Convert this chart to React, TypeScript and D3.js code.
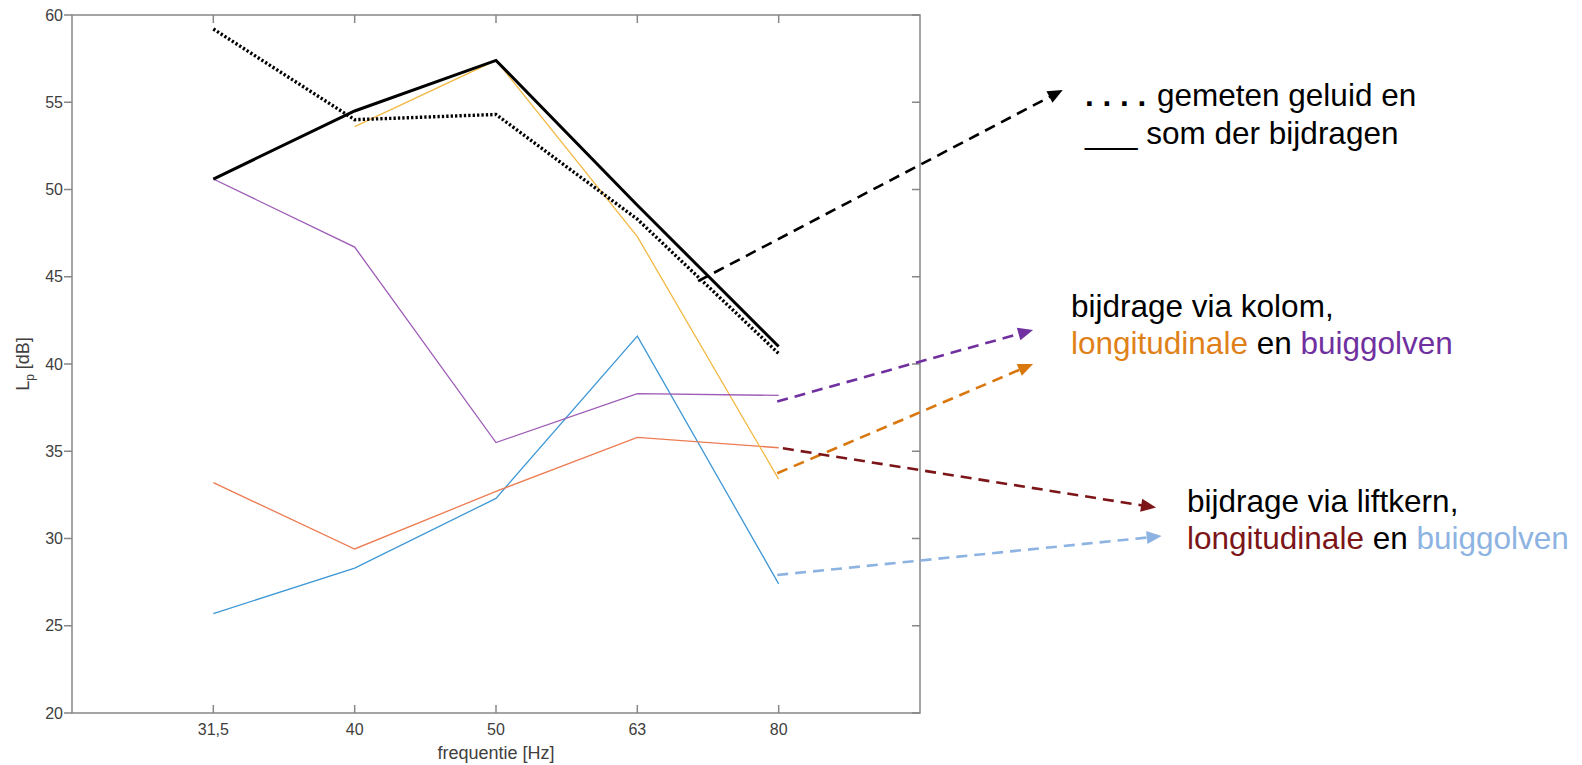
import React from "react";
import * as d3 from "d3";

// ---- data ----
const freqLabels = ["31,5", "40", "50", "63", "80"];
const yTicks = [20, 25, 30, 35, 40, 45, 50, 55, 60];
const measured = [59.2, 54.0, 54.3, 48.3, 40.6];
const sumContrib = [50.6, 54.5, 57.4, 49.1, 41.0];
const columnLongitudinal: (number | null)[] = [null, 53.6, 57.4, 47.3, 33.4];
const columnBending = [50.6, 46.7, 35.5, 38.3, 38.2];
const coreLongitudinal = [33.2, 29.4, 32.7, 35.8, 35.2];
const coreBending = [25.7, 28.3, 32.3, 41.6, 27.4];

// annotation arrows in data coordinates (x: category index, 31,5 = 1)
const arrowBlack = [[4.43, 44.75], [7.01, 55.7]];
const arrowPurple = [[4.99, 37.85], [6.8, 41.95]];
const arrowOrange = [[4.99, 33.74], [6.8, 40.0]];
const arrowDarkRed = [[5.03, 35.17], [7.67, 31.77]];
const arrowLightBlue = [[4.99, 27.91], [7.71, 30.14]];

const W = 1582;
const H = 765;
const M = { left: 72, right: 920, top: 15, bottom: 713 };

const x = d3.scaleLinear().domain([0, 6]).range([M.left, M.right]);
const y = d3.scaleLinear().domain([20, 60]).range([M.bottom, M.top]);

const line = d3
  .line<number | null>()
  .defined((d) => d !== null)
  .x((_, i) => x(i + 1))
  .y((d) => y(d as number));

const AXIS = "#868686";
const TICKTXT = "#404040";
const FONT = "Arial, 'Liberation Sans', Helvetica, sans-serif";

function Arrow({ pts, color, width = 2.6, dash = "11 7" }: { pts: number[][]; color: string; width?: number; dash?: string }) {
  const x0 = x(pts[0][0]);
  const y0 = y(pts[0][1]);
  const x1 = x(pts[1][0]);
  const y1 = y(pts[1][1]);
  const dx = x1 - x0;
  const dy = y1 - y0;
  const len = Math.hypot(dx, dy);
  const ux = dx / len;
  const uy = dy / len;
  const hl = 15;
  const hw = 6.5;
  const bx = x1 - ux * hl;
  const by = y1 - uy * hl;
  const p1 = [bx - uy * hw, by + ux * hw];
  const p2 = [bx + uy * hw, by - ux * hw];
  return (
    <g>
      <line x1={x0} y1={y0} x2={bx + ux * 1} y2={by + uy * 1} stroke={color} strokeWidth={width} strokeDasharray={dash} />
      <polygon points={`${x1},${y1} ${p1[0]},${p1[1]} ${p2[0]},${p2[1]}`} fill={color} />
    </g>
  );
}

export default function App() {
  return (
    <svg width={W} height={H} style={{ position: "absolute", left: 0, top: 0, background: "#fff" }} fontFamily={FONT}>
      {/* axes box */}
      <rect x={M.left} y={M.top} width={M.right - M.left} height={M.bottom - M.top} fill="none" stroke={AXIS} strokeWidth={1.5} />
      {/* y ticks */}
      {yTicks.map((t) => (
        <g key={"y" + t}>
          <line x1={M.left - 8} x2={M.left} y1={y(t)} y2={y(t)} stroke={AXIS} strokeWidth={1.5} />
          <line x1={M.right - 8} x2={M.right} y1={y(t)} y2={y(t)} stroke={AXIS} strokeWidth={1.5} />
          <text x={M.left - 9} y={y(t)} dy="0.35em" textAnchor="end" fontSize={16} fill={TICKTXT}>
            {t}
          </text>
        </g>
      ))}
      {/* x ticks */}
      {freqLabels.map((f, i) => (
        <g key={"x" + f}>
          <line x1={x(i + 1)} x2={x(i + 1)} y1={M.bottom} y2={M.bottom - 8} stroke={AXIS} strokeWidth={1.5} />
          <line x1={x(i + 1)} x2={x(i + 1)} y1={M.top} y2={M.top + 8} stroke={AXIS} strokeWidth={1.5} />
          <text x={x(i + 1)} y={735} textAnchor="middle" fontSize={16} fill={TICKTXT}>
            {f}
          </text>
        </g>
      ))}
      <text x={x(3)} y={759} textAnchor="middle" fontSize={18} fill={TICKTXT}>
        frequentie [Hz]
      </text>
      <text transform={`translate(29,${(M.top + M.bottom) / 2}) rotate(-90)`} textAnchor="middle" fontSize={18} fill={TICKTXT}>
        L<tspan fontSize={12} dy={5}>p</tspan>
        <tspan dy={-5}> [dB]</tspan>
      </text>

      {/* series */}
      <path d={line(coreBending) || ""} fill="none" stroke="#3f98d5" strokeWidth={1.3} />
      <path d={line(coreLongitudinal) || ""} fill="none" stroke="#ec7b52" strokeWidth={1.3} />
      <path d={line(columnLongitudinal) || ""} fill="none" stroke="#f2b843" strokeWidth={1.3} />
      <path d={line(columnBending) || ""} fill="none" stroke="#9d5bb5" strokeWidth={1.3} />
      <path d={line(sumContrib) || ""} fill="none" stroke="#000" strokeWidth={3} />
      <path d={line(measured) || ""} fill="none" stroke="#000" strokeWidth={3.4} strokeDasharray="2.3 2.1" />

      {/* annotation arrows */}
      <Arrow pts={arrowBlack} color="#000" />
      <Arrow pts={arrowPurple} color="#7030A0" />
      <Arrow pts={arrowOrange} color="#D9770F" />
      <Arrow pts={arrowDarkRed} color="#7B1518" />
      <Arrow pts={arrowLightBlue} color="#8DB3E2" />

      {/* annotation texts */}
      <text fontSize={31.5} fill="#000">
        <tspan x={1085} y={106} fontWeight="bold">. . . .</tspan>
        <tspan x={1157} y={106}>gemeten geluid en</tspan>
        <tspan x={1085} y={143.5}>___ som der bijdragen</tspan>
      </text>
      <text fontSize={31.5} fill="#000">
        <tspan x={1071} y={316.5}>bijdrage via kolom,</tspan>
        <tspan x={1071} y={354}>
          <tspan fill="#DF8119">longitudinale</tspan> en <tspan fill="#7030A0">buiggolven</tspan>
        </tspan>
      </text>
      <text fontSize={31.5} fill="#000">
        <tspan x={1187} y={511.5}>bijdrage via liftkern,</tspan>
        <tspan x={1187} y={549}>
          <tspan fill="#7B1518">longitudinale</tspan> en <tspan fill="#8DB3E2">buiggolven</tspan>
        </tspan>
      </text>
    </svg>
  );
}
